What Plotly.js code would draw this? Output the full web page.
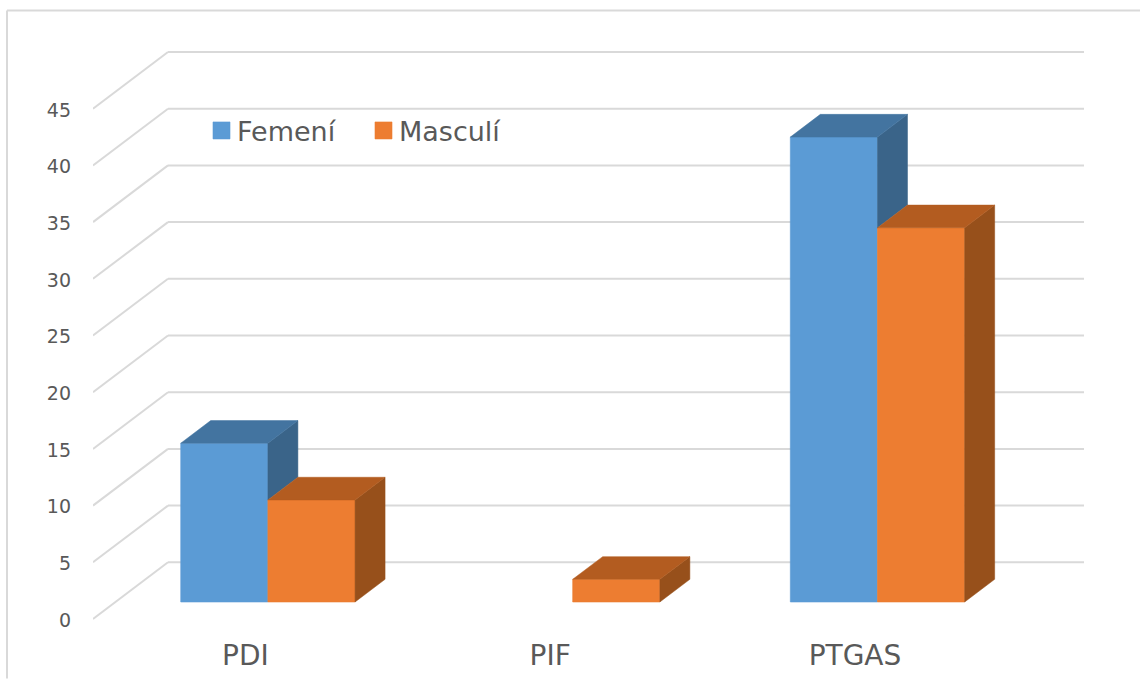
<!DOCTYPE html>
<html>
<head>
<meta charset="utf-8">
<script src="https://cdn.plot.ly/plotly-3.0.1.min.js"></script>
<style>html,body{margin:0;padding:0;background:#fff;overflow:hidden}#chart{width:1140px;height:679px}</style>
</head>
<body>
<div id="chart"></div>
<script>
var categories = ['PDI', 'PIF', 'PTGAS'];
var femeni = [14, 0, 41];
var masculi = [9, 2, 33];
var yTicks = [0, 5, 10, 15, 20, 25, 30, 35, 40, 45];

var W = 1140, H = 679;
var M = {l: 93, r: 56, t: 49.5, b: 57.5};
var pxPerCat = 304.8, pxPerVal = 11.36;
var depthPxX = 75;
var depthX = depthPxX / pxPerCat;   // full floor depth, in category units
var depthY = 5;                     // full floor depth, in value units
var barWidth = 0.286;
var barStart = 0.3, barDepth = 0.4; // bar position along the floor depth
var baseY = barStart * depthY;
var catShift = barStart * depthX;
var xMin = -0.5, xMax = xMin + (W - M.l - M.r) / pxPerCat;
var pad = 2 / pxPerVal;
var grid = {color: '#D9D9D9', width: 2};

function topFace(vals, side) {
  var xs = [], ys = [];
  vals.forEach(function (v, i) {
    if (!v) return;
    var x0 = i + catShift + (side === 0 ? -barWidth : 0), x1 = x0 + barWidth;
    var y = baseY + v, dx = barDepth * depthX, dy = barDepth * depthY;
    xs.push(x0, x1, x1 + dx, x0 + dx, x0, null);
    ys.push(y, y, y + dy, y + dy, y, null);
  });
  return {x: xs, y: ys};
}
function sideFace(vals, side, neighbour) {
  var xs = [], ys = [];
  vals.forEach(function (v, i) {
    if (!v) return;
    var x = i + catShift + (side === 0 ? 0 : barWidth);
    var bottom = baseY + (neighbour ? Math.min(neighbour[i], v) : 0);
    var y = baseY + v, dx = barDepth * depthX, dy = barDepth * depthY;
    xs.push(x, x + dx, x + dx, x, x, null);
    ys.push(y, y + dy, bottom + dy, bottom, y, null);
  });
  return {x: xs, y: ys};
}
function face(f, color) {
  return {type: 'scatter', mode: 'lines', x: f.x, y: f.y, fill: 'toself', fillcolor: color,
    line: {color: color, width: 0.5}, showlegend: false, hoverinfo: 'skip'};
}
function bar(name, vals, color, side) {
  return {type: 'bar', name: name, x: categories.map(function (c, i) { return i + catShift; }),
    y: vals, base: baseY, width: barWidth, offset: side === 0 ? -barWidth : 0,
    marker: {color: color, line: {color: color, width: vals.map(function (v) { return v ? 0.6 : 0; })}}};
}

var traces = [
  bar('Femení', femeni, '#5B9BD5', 0),
  bar('Masculí', masculi, '#ED7D31', 1),
  face(sideFace(femeni, 0, masculi), '#3A6489'),
  face(topFace(femeni, 0), '#4374A0'),
  face(sideFace(masculi, 1), '#97501B'),
  face(topFace(masculi, 1), '#B35C20')
];

var shapes = [];
yTicks.forEach(function (v) {
  shapes.push({type: 'line', layer: 'below', xref: 'x', yref: 'y', x0: xMin, y0: v, x1: xMin + depthX, y1: v + depthY, line: grid});
  shapes.push({type: 'line', layer: 'below', xref: 'x', yref: 'y', x0: xMin + depthX, y0: v + depthY, x1: xMax, y1: v + depthY, line: grid});
});
function px(p) { return (p - M.l) / (W - M.l - M.r); }
function py(p) { return 1 - (p - M.t) / (H - M.t - M.b); }
shapes.push({type: 'line', layer: 'below', xref: 'paper', yref: 'paper', x0: px(7), y0: py(10), x1: px(W), y1: py(10), line: grid});
shapes.push({type: 'line', layer: 'below', xref: 'paper', yref: 'paper', x0: px(7), y0: py(10), x1: px(7), y1: py(H), line: grid});

var font = 'DejaVu Sans, Verdana, sans-serif';
var layout = {
  width: W, height: H, margin: M, paper_bgcolor: '#fff', plot_bgcolor: 'rgba(0,0,0,0)',
  barmode: 'overlay', shapes: shapes, showlegend: true,
  font: {family: font, color: '#595959'},
  legend: {orientation: 'h', x: px(197), xanchor: 'left', y: py(106), yanchor: 'top',
    font: {size: 27, color: '#595959', family: font}, entrywidth: 117, entrywidthmode: 'pixels',
    bgcolor: 'rgba(0,0,0,0)', traceorder: 'normal'},
  xaxis: {range: [xMin, xMax], tickmode: 'array', tickvals: categories.map(function (c, i) { return i; }),
    ticktext: categories, showgrid: false, zeroline: false, showline: false, ticks: '',
    tickfont: {size: 28, color: '#595959', family: font}, ticklabelstandoff: 15, fixedrange: true},
  yaxis: {range: [-pad, 50 + pad], tickmode: 'array', tickvals: yTicks, ticktext: yTicks.map(String),
    showgrid: false, zeroline: false, showline: false, ticks: '',
    tickfont: {size: 19, color: '#595959', family: font}, ticklabelstandoff: 21, fixedrange: true}
};

Plotly.newPlot('chart', traces, layout, {displayModeBar: false, staticPlot: true}).then(function () {
  document.querySelectorAll('.legend .legendpoints path').forEach(function (p) {
    p.setAttribute('d', 'M13,8.5H-4V-8.5H13Z');
  });
  document.querySelectorAll('.ytick text').forEach(function (t) {
    t.setAttribute('dy', '1.2');
  });
});
</script>
</body>
</html>
